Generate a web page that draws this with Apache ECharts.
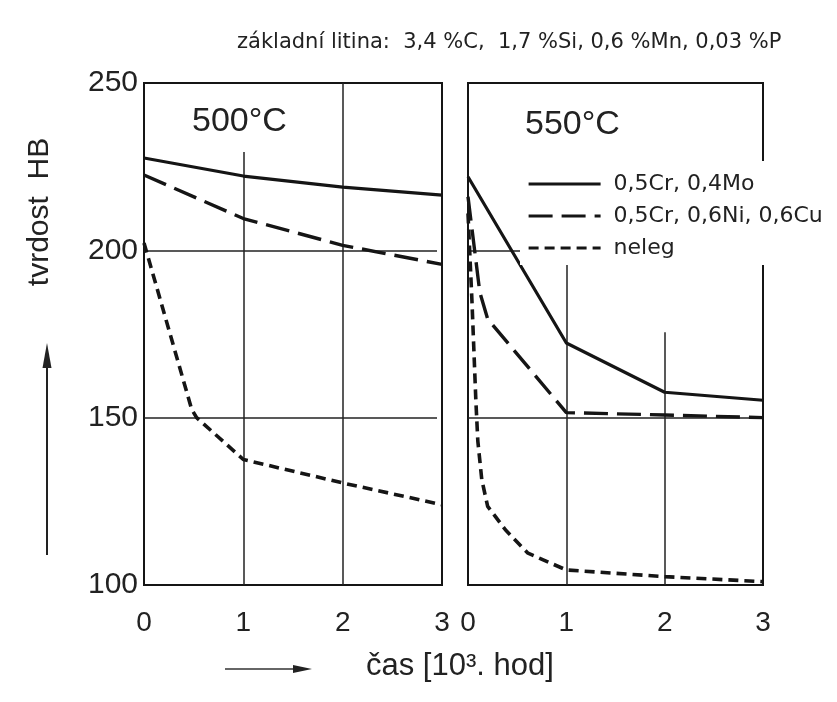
<!DOCTYPE html>
<html>
<head>
<meta charset="utf-8">
<script src="https://cdn.jsdelivr.net/npm/echarts@6/dist/echarts.min.js"></script>
<style>
html,body{margin:0;padding:0;background:#fff;}
#chart{width:837px;height:702px;}
</style>
</head>
<body>
<div id="chart"></div>
<script>
// ---- data ----
const titleText = 'základní litina:  3,4 %C,  1,7 %Si, 0,6 %Mn, 0,03 %P';
const panelLabels = ['500°C', '550°C'];
const yAxisName = 'tvrdost  HB';
const xAxisName = 'čas [10³. hod]';
const seriesNames = ['0,5Cr, 0,4Mo', '0,5Cr, 0,6Ni, 0,6Cu', 'neleg'];
const xTicks = [0, 1, 2, 3];
const yTicks = [100, 150, 200, 250];

// 500 °C panel
const t500_CrMo   = [0, 1, 2, 3];
const hb500_CrMo  = [227.6, 222.2, 218.9, 216.5];
const t500_CrNiCu = [0, 1, 2, 3];
const hb500_CrNiCu= [222.5, 209.5, 201.5, 195.8];
const t500_neleg  = [0, 0.48, 0.53, 1, 2, 3];
const hb500_neleg = [202.2, 152.5, 150, 137.5, 130.5, 124];

// 550 °C panel
const t550_CrMo   = [0, 1, 2, 3];
const hb550_CrMo  = [222, 172.3, 157.6, 155.2];
const t550_CrNiCu = [0, 0.12, 0.2, 1, 2, 3];
const hb550_CrNiCu= [216, 187.5, 179.5, 151.5, 150.8, 150];
const t550_neleg  = [0, 0.04, 0.08, 0.1, 0.14, 0.2, 0.38, 0.61, 1, 2, 3];
const hb550_neleg = [211, 185, 155, 143, 131.5, 123.5, 116.5, 109.5, 104.5, 102.5, 101];

// grid lines: vertical [x, yFrom, yTo], horizontal [y, xFrom, xTo]
const grid500V = [[1, 100, 229.4], [2, 100, 250]];
const grid500H = [[200, 0, 2.95], [150, 0, 2.95]];
const grid550V = [[1, 100, 197], [2, 100, 175.5]];
const grid550H = [[200, 0, 0.56], [150, 0, 3]];

// ---- chart ----
const FONT = 'Liberation Sans, Arial, sans-serif';
const WIDE = 'DejaVu Sans, sans-serif';
const INK = '#151515';
const zip = (t, v) => t.map((x, i) => [x, v[i]]);
const dashLong = [24, 9];
const dashShort = [10, 6];
const styles = [
  {type: 'solid', width: 3.2},
  {type: dashLong, width: 3.4},
  {type: dashShort, width: 3.6}
];

function gridMarks(V, H) {
  const d = [];
  V.forEach(g => d.push([{coord: [g[0], g[1]]}, {coord: [g[0], g[2]]}]));
  H.forEach(g => d.push([{coord: [g[1], g[0]]}, {coord: [g[2], g[0]]}]));
  return {
    silent: true, symbol: ['none', 'none'], label: {show: false},
    lineStyle: {color: '#222', width: 1.5, type: 'solid'},
    data: d, z: 1
  };
}

const panelData = [
  [zip(t500_CrMo, hb500_CrMo), zip(t500_CrNiCu, hb500_CrNiCu), zip(t500_neleg, hb500_neleg)],
  [zip(t550_CrMo, hb550_CrMo), zip(t550_CrNiCu, hb550_CrNiCu), zip(t550_neleg, hb550_neleg)]
];
const marks = [gridMarks(grid500V, grid500H), gridMarks(grid550V, grid550H)];

const series = [];
panelData.forEach((pd, p) => {
  pd.forEach((data, s) => {
    const o = {
      name: seriesNames[s], type: 'line', xAxisIndex: p, yAxisIndex: p,
      data: data, symbol: 'none', smooth: false, z: 3,
      lineStyle: Object.assign({color: INK}, styles[s]),
      itemStyle: {color: INK},
      emphasis: {disabled: true}, animation: false
    };
    if (s === 0) o.markLine = marks[p];
    series.push(o);
  });
});

function xAxis(idx) {
  return {
    type: 'value', gridIndex: idx, min: xTicks[0], max: xTicks[xTicks.length - 1], interval: 1,
    axisLine: {show: false}, axisTick: {show: false}, splitLine: {show: false},
    axisLabel: {fontFamily: FONT, fontSize: 28, color: '#222', margin: 24}
  };
}
function yAxis(idx) {
  return {
    type: 'value', gridIndex: idx, min: yTicks[0], max: yTicks[yTicks.length - 1], interval: 50,
    axisLine: {show: false}, axisTick: {show: false}, splitLine: {show: false},
    axisLabel: {show: idx === 0, fontFamily: FONT, fontSize: 30, color: '#222', margin: 6}
  };
}

const chart = echarts.init(document.getElementById('chart'), null, {renderer: 'canvas'});
chart.setOption({
  animation: false,
  backgroundColor: '#fff',
  title: {
    text: titleText, left: 232, top: 27,
    textStyle: {fontFamily: WIDE, fontSize: 21, fontWeight: 'normal', color: '#222'}
  },
  grid: [
    {left: 144, right: 395, top: 83, bottom: 117, show: true, borderColor: INK, borderWidth: 2, backgroundColor: 'transparent'},
    {left: 468, right: 74, top: 83, bottom: 117, show: true, borderColor: INK, borderWidth: 2, backgroundColor: 'transparent'}
  ],
  xAxis: [xAxis(0), xAxis(1)],
  yAxis: [yAxis(0), yAxis(1)],
  legend: {
    data: seriesNames, orient: 'vertical', left: 520, top: 161,
    padding: [12, 8, 6, 7], itemWidth: 72, itemHeight: 20, itemGap: 10,
    backgroundColor: '#fff', z: 5, selectedMode: false,
    itemStyle: {opacity: 0},
    lineStyle: {width: 3.2},
    textStyle: {fontFamily: WIDE, fontSize: 22, color: '#222', padding: [0, 0, 0, 8]}
  },
  graphic: [
    {type: 'text', left: 192, top: 105, z: 10, style: {text: panelLabels[0], font: '34px ' + FONT, fill: '#222'}},
    {type: 'text', left: 525, top: 108, z: 10, style: {text: panelLabels[1], font: '34px ' + FONT, fill: '#222'}},
    {type: 'text', x: 40, y: 212, rotation: Math.PI / 2, z: 10,
      style: {text: yAxisName, font: '30px ' + FONT, fill: '#222', align: 'center', verticalAlign: 'middle'}},
    {type: 'line', z: 10, shape: {x1: 47, y1: 555, x2: 47, y2: 362}, style: {stroke: '#222', lineWidth: 2}},
    {type: 'polygon', z: 10, shape: {points: [[47, 343], [42.5, 368], [51.5, 368]]}, style: {fill: '#222'}},
    {type: 'line', z: 10, shape: {x1: 225, y1: 669, x2: 298, y2: 669}, style: {stroke: '#333', lineWidth: 1.5}},
    {type: 'polygon', z: 10, shape: {points: [[312, 669], [293, 665], [293, 673]]}, style: {fill: '#222'}},
    {type: 'text', left: 366, top: 651, z: 10, style: {text: xAxisName, font: '31px ' + FONT, fill: '#222'}}
  ],
  series: series
});
</script>
</body>
</html>
